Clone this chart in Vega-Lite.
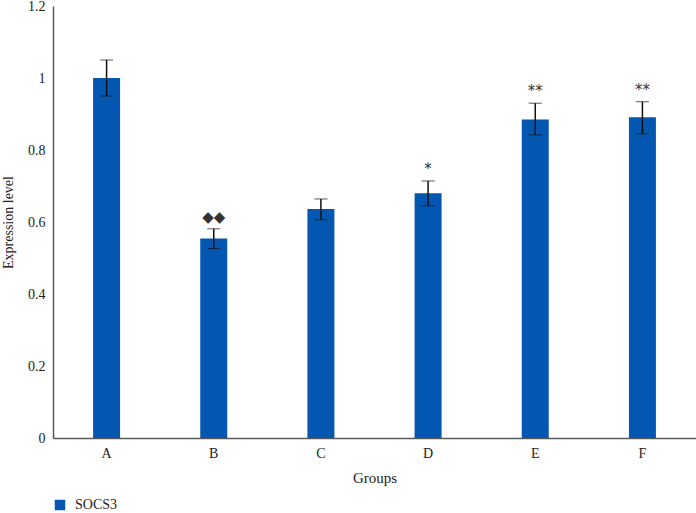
{
  "$schema": "https://vega.github.io/schema/vega-lite/v6.json",
  "width": 643,
  "height": 432,
  "autosize": {"type": "none"},
  "padding": {"left": 53, "top": 6, "right": 0, "bottom": 75},
  "background": "white",
  "config": {"view": {"stroke": null}, "font": "Liberation Serif"},
  "data": {"values": [
    {"group": "A", "value": 1.0, "lo": 0.95, "hi": 1.05, "mark": "", "series": "SOCS3"},
    {"group": "B", "value": 0.554, "lo": 0.526, "hi": 0.581, "mark": "◆◆", "series": "SOCS3"},
    {"group": "C", "value": 0.636, "lo": 0.606, "hi": 0.664, "mark": "", "series": "SOCS3"},
    {"group": "D", "value": 0.68, "lo": 0.645, "hi": 0.714, "mark": "*", "series": "SOCS3"},
    {"group": "E", "value": 0.885, "lo": 0.842, "hi": 0.93, "mark": "**", "series": "SOCS3"},
    {"group": "F", "value": 0.891, "lo": 0.845, "hi": 0.934, "mark": "**", "series": "SOCS3"}
  ]},
  "encoding": {
    "x": {"field": "group", "type": "nominal", "scale": {"paddingInner": 0, "paddingOuter": 0},
      "axis": {"title": "Groups", "labelAngle": 0, "ticks": false, "domainColor": "#595959", "domainWidth": 1.5,
        "labelFont": "Liberation Serif", "labelFontSize": 14, "labelColor": "#222", "labelPadding": 8,
        "titleFont": "Liberation Serif", "titleFontSize": 15, "titleFontWeight": "normal", "titleColor": "#222", "titlePadding": 10}}
  },
  "layer": [
    {
      "mark": {"type": "bar", "size": 27, "color": "#0457b0"},
      "encoding": {
        "y": {"field": "value", "type": "quantitative", "title": "Expression level", "scale": {"domain": [0, 1.2]},
          "axis": {"title": "Expression level", "values": [0, 0.2, 0.4, 0.6, 0.8, 1, 1.2], "format": "~g", "grid": false, "ticks": false,
            "domainColor": "#595959", "domainWidth": 1.5, "labelFont": "Liberation Serif", "labelFontSize": 14, "labelColor": "#222", "labelPadding": 8,
            "titleFont": "Liberation Serif", "titleFontSize": 14, "titleFontWeight": "normal", "titleColor": "#222", "titlePadding": 12}},
        "fill": {"field": "series", "type": "nominal", "scale": {"range": ["#0457b0"]},
          "legend": {"title": null, "orient": "none", "legendX": 0, "legendY": 492, "symbolType": "square", "symbolSize": 110, "labelOffset": 8,
            "labelFont": "Liberation Serif", "labelFontSize": 14, "labelColor": "#222"}}
      }
    },
    {
      "mark": {"type": "errorbar", "ticks": {"size": 13, "color": "#111", "strokeWidth": 1.5}, "rule": {"color": "#111", "strokeWidth": 1.5}},
      "encoding": {
        "y": {"field": "lo", "type": "quantitative", "title": "Expression level"},
        "y2": {"field": "hi"}
      }
    },
    {
      "mark": {"type": "text", "baseline": "bottom", "dy": -4, "fontSize": 15, "color": "#333", "font": "DejaVu Sans", "letterSpacing": 3},
      "encoding": {
        "y": {"field": "hi", "type": "quantitative", "title": "Expression level"},
        "text": {"field": "mark"}
      }
    }
  ]
}
